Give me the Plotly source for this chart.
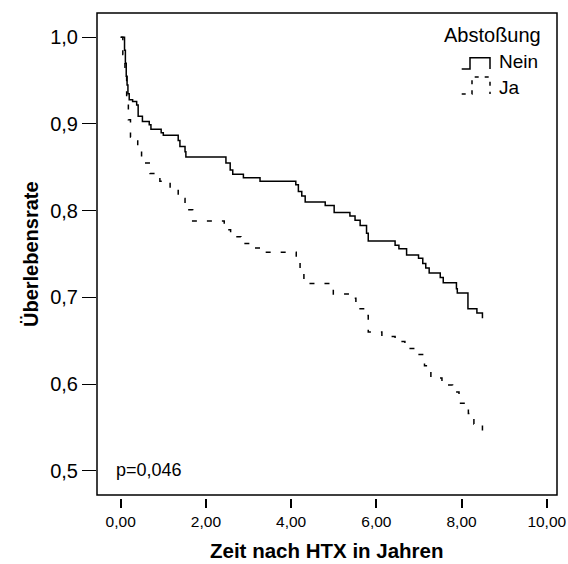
import plotly.graph_objects as go

# Kaplan-Meier step curves: event times (years) and survival after each step
nein_t = [0, 0.09, 0.11, 0.13, 0.15, 0.17, 0.20, 0.28, 0.375, 0.41, 0.51, 0.67, 0.71,
          0.95, 1.00, 1.35, 1.39, 1.51, 1.53, 2.47, 2.57, 2.63, 2.88, 3.27, 4.11,
          4.17, 4.25, 4.33, 4.80, 5.01, 5.38, 5.50, 5.62, 5.77, 5.81, 6.44, 6.53,
          6.71, 6.99, 7.09, 7.16, 7.24, 7.50, 7.57, 7.88, 7.90, 8.15, 8.36, 8.49]
nein_s = [1.0, 0.985, 0.97, 0.955, 0.945, 0.935, 0.928, 0.926, 0.922, 0.909, 0.903,
          0.899, 0.894, 0.890, 0.887, 0.881, 0.874, 0.868, 0.862, 0.855, 0.847,
          0.842, 0.838, 0.834, 0.830, 0.822, 0.817, 0.810, 0.806, 0.798, 0.794,
          0.789, 0.783, 0.774, 0.765, 0.760, 0.756, 0.749, 0.745, 0.739, 0.734,
          0.728, 0.723, 0.717, 0.710, 0.705, 0.687, 0.682, 0.676]

ja_t = [0, 0.05, 0.10, 0.14, 0.18, 0.23, 0.40, 0.49, 0.69, 0.92, 1.16, 1.35, 1.51,
        1.69, 2.43, 2.58, 2.82, 3.11, 3.30, 4.12, 4.21, 4.30, 4.99, 5.34, 5.52,
        5.76, 5.81, 6.13, 6.44, 6.67, 6.96, 7.13, 7.28, 7.54, 7.79, 7.94, 8.16,
        8.29, 8.49]
ja_s = [1.0, 0.98, 0.96, 0.924, 0.905, 0.885, 0.872, 0.855, 0.843, 0.834, 0.826,
        0.814, 0.801, 0.788, 0.778, 0.770, 0.762, 0.757, 0.752, 0.743, 0.728,
        0.716, 0.704, 0.699, 0.687, 0.679, 0.660, 0.655, 0.649, 0.641, 0.634,
        0.621, 0.607, 0.599, 0.591, 0.578, 0.566, 0.554, 0.543]

x_ticks = [0, 2, 4, 6, 8, 10]
x_tick_text = ["0,00", "2,00", "4,00", "6,00", "8,00", "10,00"]
y_ticks = [0.5, 0.6, 0.7, 0.8, 0.9, 1.0]
y_tick_text = ["0,5", "0,6", "0,7", "0,8", "0,9", "1,0"]

FONT = "Liberation Sans, Arial, sans-serif"
W, H = 568, 564
ML, MR, MT, MB = 97, 11, 13, 66
PW, PH = W - ML - MR, H - MT - MB


def px(x, y):
    """Pixel position -> paper coordinates."""
    return (x - ML) / PW, (H - MB - y) / PH


fig = go.Figure()
fig.add_trace(go.Scatter(x=nein_t, y=nein_s, mode="lines", line_shape="hv",
                         line=dict(color="black", width=1.5), name="Nein",
                         showlegend=False))
fig.add_trace(go.Scatter(x=ja_t, y=ja_s, mode="lines", line_shape="hv",
                         line=dict(color="black", width=1.5, dash="5px,10px"),
                         name="Ja", showlegend=False))

shapes = []
# frame around the plotting region
bx0, by0 = px(97, 495)
shapes.append(dict(type="rect", xref="paper", yref="paper", x0=0, x1=1,
                   y0=by0, y1=1, line=dict(color="black", width=1.5)))


def step_path(pts):
    coords = [px(x, y) for x, y in pts]
    return "M " + " L ".join(f"{a:.5f},{b:.5f}" for a, b in coords)


# legend glyphs
shapes.append(dict(type="path", xref="paper", yref="paper",
                   path=step_path([(461.7, 69), (470, 69), (470, 57.7), (490, 57.7), (490, 69)]),
                   line=dict(color="black", width=1.5)))
shapes.append(dict(type="path", xref="paper", yref="paper",
                   path=step_path([(461.7, 94), (472, 94), (472, 77), (490, 77), (490, 94)]),
                   line=dict(color="black", width=1.5, dash="4px,6px")))

annotations = []
ax, ay = px(492.5, 35)
annotations.append(dict(x=ax, y=ay, xref="paper", yref="paper", text="Abstoßung",
                        showarrow=False, xanchor="center", yanchor="middle",
                        font=dict(family=FONT, size=20, color="black")))
for label, yy in [("Nein", 62), ("Ja", 87)]:
    lx, ly = px(497, yy)
    annotations.append(dict(x=lx, y=ly, xref="paper", yref="paper", text=label,
                            showarrow=False, xanchor="left", yanchor="middle",
                            font=dict(family=FONT, size=19, color="black")))
plx, ply = px(114, 470)
annotations.append(dict(x=plx, y=ply, xref="paper", yref="paper", text="p=0,046",
                        showarrow=False, xanchor="left", yanchor="middle",
                        font=dict(family=FONT, size=18, color="black")))

# axis titles
tx, ty = px(327, 550)
annotations.append(dict(x=tx, y=ty, xref="paper", yref="paper",
                        text="<b>Zeit nach HTX in Jahren</b>", showarrow=False,
                        xanchor="center", yanchor="middle",
                        font=dict(family=FONT, size=20.5, color="black")))
vx, vy = px(31, 254)
annotations.append(dict(x=vx, y=vy, xref="paper", yref="paper",
                        text="<b>Überlebensrate</b>", showarrow=False, textangle=-90,
                        xanchor="center", yanchor="middle",
                        font=dict(family=FONT, size=20, color="black")))

fig.update_layout(
    width=W, height=H,
    margin=dict(l=ML, r=MR, t=MT, b=MB, pad=0, autoexpand=False),
    paper_bgcolor="white", plot_bgcolor="white",
    shapes=shapes, annotations=annotations,
    font=dict(family=FONT, color="black"),
    showlegend=False,
    xaxis=dict(range=[-0.556, 10.24], tickvals=x_ticks, ticktext=x_tick_text,
               ticks="outside", ticklen=9, tickwidth=1.5, tickcolor="black",
               showline=False, showgrid=False, zeroline=False, automargin=False,
               tickfont=dict(family=FONT, size=15.5, color="black")),
    yaxis=dict(range=[0.4686, 1.028], tickvals=y_ticks, ticktext=y_tick_text,
               ticks="outside", ticklen=14, tickwidth=1, tickcolor="black",
               showline=False, showgrid=False, zeroline=False, automargin=False,
               tickfont=dict(family=FONT, size=20, color="black")),
)

fig.write_html("out.html")
